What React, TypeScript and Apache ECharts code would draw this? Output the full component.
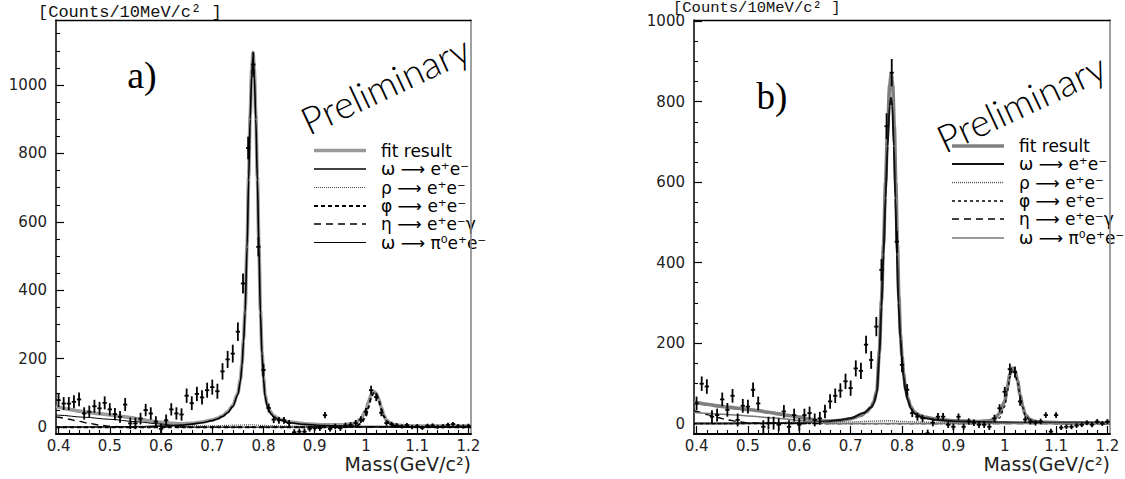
import React, { useEffect, useRef } from "react";
import * as echarts from "echarts";

// ---------------- data ----------------
const massBins = [
  0.40, 0.41, 0.42, 0.43, 0.44, 0.45, 0.46, 0.47, 0.48, 0.49,
  0.50, 0.51, 0.52, 0.53, 0.54, 0.55, 0.56, 0.57, 0.58, 0.59,
  0.60, 0.61, 0.62, 0.63, 0.64, 0.65, 0.66, 0.67, 0.68, 0.69,
  0.70, 0.71, 0.72, 0.73, 0.74, 0.75, 0.76, 0.77, 0.78, 0.79,
  0.80, 0.81, 0.82, 0.83, 0.84, 0.85, 0.86, 0.87, 0.88, 0.89,
  0.90, 0.91, 0.92, 0.93, 0.94, 0.95, 0.96, 0.97, 0.98, 0.99,
  1.00, 1.01, 1.02, 1.03, 1.04, 1.05, 1.06, 1.07, 1.08, 1.09,
  1.10, 1.11, 1.12, 1.13, 1.14, 1.15, 1.16, 1.17, 1.18, 1.19, 1.20,
];

const countsA = [
  79, 69, 69, 74, 81, 40, 45, 61, 55, 71,
  52, 38, 30, 66, 11, 11, 25, 50, 40, 16,
  -5, 20, 52, 40, 37, 92, 70, 97, 87, 108,
  117, 105, 163, 198, 215, 279, 420, 816, 1060, 527,
  167, 56, 22, 20, 20, 12, -15, -13, -13, -5,
  -3, -3, 35, -5, 2, -3, 5, 7, 12, 22,
  45, 108, 88, 42, 12, 9, 5, 2, 6, 0,
  3, -2, 4, 5, 1, 3, 7, 9, 3, 2, 4,
];
const errorsA = [
  20, 19, 19, 19, 20, 18, 18, 19, 19, 19,
  18, 18, 17, 19, 17, 17, 17, 18, 18, 16,
  16, 17, 18, 18, 18, 21, 20, 21, 21, 22,
  22, 22, 24, 25, 26, 27, 29, 33, 36, 28,
  18, 13, 10, 10, 10, 9, 9, 9, 9, 8,
  8, 8, 9, 8, 8, 8, 8, 8, 9, 10,
  11, 13, 12, 10, 8, 7, 7, 6, 6, 6,
  6, 6, 6, 6, 6, 6, 6, 6, 6, 6, 6,
];

const countsB = [
  50, 99, 92, 17, 21, 60, 34, 69, 9, 44,
  42, 84, 50, -8, 1, 1, -3, 30, -8, 21,
  -3, 21, 26, 9, 13, 30, 55, 69, 82, 105,
  88, 137, 131, 196, 158, 241, 382, 739, 872, 452,
  146, 84, 26, 17, 13, -24, 2, 17, 17, -3,
  -8, 17, -8, 5, 2, -3, -3, -8, 13, 38,
  79, 135, 128, 55, 10, 5, 2, 5, 21, -20,
  21, -10, -8, -8, -5, -3, 2, -3, 5, 0, 5,
];
const errorsB = [
  17, 18, 18, 16, 16, 17, 17, 17, 16, 17,
  17, 18, 17, 16, 16, 16, 16, 16, 16, 16,
  16, 16, 16, 16, 16, 17, 18, 18, 18, 19,
  19, 20, 20, 22, 22, 24, 27, 32, 34, 27,
  18, 14, 10, 10, 9, 9, 9, 9, 9, 8,
  8, 8, 8, 8, 8, 8, 8, 8, 9, 10,
  12, 14, 14, 11, 8, 7, 7, 7, 7, 7,
  7, 6, 6, 6, 6, 6, 6, 6, 6, 6, 6,
];

// fit curves, panel a
const fitA = [
  [0.395, 60], [0.40, 58], [0.42, 52], [0.44, 47], [0.46, 43], [0.48, 39], [0.50, 36],
  [0.52, 32], [0.54, 28], [0.56, 23], [0.58, 18], [0.60, 14], [0.62, 11], [0.64, 10],
  [0.66, 11], [0.68, 15], [0.70, 21], [0.71, 26], [0.72, 33], [0.73, 45], [0.74, 63],
  [0.75, 100], [0.755, 140], [0.758, 185], [0.761, 255], [0.764, 340], [0.768, 535],
  [0.771, 732], [0.774, 912], [0.777, 1045], [0.7795, 1095], [0.782, 1045], [0.785, 912],
  [0.788, 732], [0.791, 535], [0.794, 340], [0.797, 222], [0.80, 146], [0.803, 96],
  [0.807, 67], [0.81, 54], [0.815, 42], [0.82, 33], [0.83, 24], [0.85, 15], [0.88, 10],
  [0.92, 7], [0.95, 7], [0.97, 9], [0.98, 13], [0.99, 24], [1.0, 50], [1.005, 74],
  [1.01, 94], [1.015, 104], [1.02, 99], [1.025, 82], [1.03, 57], [1.035, 35], [1.04, 20],
  [1.05, 9], [1.06, 6], [1.08, 4], [1.12, 3], [1.205, 3],
];
const omegaA = [
  [0.395, 0], [0.50, 0.5], [0.55, 1], [0.60, 3], [0.64, 6], [0.66, 9], [0.68, 13],
  [0.70, 19], [0.71, 24], [0.72, 31], [0.73, 42], [0.74, 60], [0.75, 95], [0.755, 135],
  [0.758, 180], [0.761, 250], [0.764, 333], [0.768, 527], [0.771, 722], [0.774, 900],
  [0.777, 1030], [0.7795, 1080], [0.782, 1030], [0.785, 900], [0.788, 722], [0.791, 527],
  [0.794, 333], [0.797, 215], [0.80, 140], [0.803, 90], [0.807, 62], [0.81, 50],
  [0.815, 38], [0.82, 30], [0.83, 22], [0.85, 13], [0.88, 8], [0.92, 5], [0.96, 3],
  [1.0, 2], [1.1, 1], [1.205, 1],
];
const rhoA = [
  [0.395, 1], [0.5, 1.5], [0.6, 2.5], [0.7, 4], [0.75, 6], [0.775, 7], [0.8, 5],
  [0.85, 3], [0.9, 2], [1.0, 1], [1.205, 0.5],
];
const phiA = [
  [0.395, 0], [0.95, 0], [0.97, 1], [0.98, 3], [0.99, 10], [1.0, 32], [1.005, 58],
  [1.01, 86], [1.015, 100], [1.02, 96], [1.025, 78], [1.03, 52], [1.035, 31], [1.04, 17],
  [1.05, 6], [1.06, 3], [1.08, 1], [1.1, 0], [1.205, 0],
];
const etaA = [
  [0.395, 30], [0.40, 29], [0.42, 23], [0.44, 17], [0.46, 11], [0.48, 6], [0.50, 3],
  [0.52, 1], [0.55, 0], [1.205, 0],
];
const omegaPiA = [
  [0.395, 36], [0.40, 35], [0.45, 29], [0.50, 23], [0.55, 16], [0.60, 9], [0.63, 4],
  [0.65, 0.5], [0.66, 0], [1.205, 0],
];

// fit curves, panel b
const fitB = [
  [0.395, 53], [0.40, 52], [0.42, 48], [0.44, 44], [0.46, 41], [0.48, 38], [0.50, 35],
  [0.52, 32], [0.54, 28], [0.56, 24], [0.58, 20], [0.60, 16], [0.62, 11], [0.64, 7],
  [0.66, 6], [0.68, 8], [0.70, 12], [0.72, 20], [0.73, 28], [0.74, 41], [0.745, 54],
  [0.751, 82], [0.756, 180], [0.760, 305], [0.764, 445], [0.768, 600], [0.772, 740],
  [0.776, 840], [0.779, 868], [0.782, 840], [0.785, 740], [0.788, 600], [0.791, 445],
  [0.794, 315], [0.797, 222], [0.80, 168], [0.803, 124], [0.807, 86], [0.811, 64],
  [0.817, 42], [0.823, 30], [0.83, 23], [0.842, 16], [0.87, 10], [0.9, 7], [0.95, 5],
  [0.97, 7], [0.98, 12], [0.99, 25], [1.0, 55], [1.005, 90], [1.01, 122], [1.015, 138],
  [1.02, 132], [1.025, 106], [1.03, 72], [1.035, 42], [1.04, 22], [1.05, 9], [1.06, 5],
  [1.08, 3], [1.12, 2], [1.205, 2],
];
const omegaB = [
  [0.395, 0], [0.5, 0.5], [0.6, 2], [0.65, 5], [0.68, 9], [0.70, 13], [0.725, 26],
  [0.74, 40], [0.745, 50], [0.751, 75], [0.756, 170], [0.760, 290], [0.764, 420],
  [0.768, 560], [0.772, 690], [0.776, 790], [0.7785, 810], [0.781, 790], [0.784, 690],
  [0.787, 560], [0.790, 420], [0.793, 300], [0.797, 210], [0.80, 160], [0.803, 117],
  [0.807, 80], [0.811, 59], [0.817, 38], [0.823, 26], [0.83, 20], [0.842, 14], [0.87, 9],
  [0.9, 6], [0.95, 4], [1.0, 3], [1.1, 2], [1.205, 1],
];
const rhoB = [
  [0.395, 1], [0.5, 1.5], [0.6, 2.5], [0.7, 4], [0.75, 6], [0.775, 7], [0.8, 5],
  [0.85, 3], [0.9, 2], [1.0, 1], [1.205, 0.5],
];
const phiB = [
  [0.395, 0], [0.95, 0], [0.97, 1], [0.98, 4], [0.99, 14], [1.0, 42], [1.005, 78],
  [1.01, 115], [1.015, 133], [1.02, 128], [1.025, 103], [1.03, 68], [1.035, 40],
  [1.04, 20], [1.05, 7], [1.06, 3], [1.08, 1], [1.1, 0], [1.205, 0],
];
const etaB = [
  [0.395, 32], [0.40, 30], [0.42, 22], [0.44, 15], [0.46, 9], [0.48, 5], [0.50, 2],
  [0.52, 1], [0.55, 0], [1.205, 0],
];
const omegaPiB = [
  [0.395, 28], [0.40, 27], [0.45, 23], [0.50, 19], [0.55, 14], [0.60, 8], [0.63, 4],
  [0.65, 0.5], [0.66, 0], [1.205, 0],
];

// ticks
const xTickValues = [0.4, 0.5, 0.6, 0.7, 0.8, 0.9, 1.0, 1.1, 1.2];
const xTickLabels = ["0.4", "0.5", "0.6", "0.7", "0.8", "0.9", "1", "1.1", "1.2"];
const xMinorTicks = [
  0.42, 0.44, 0.46, 0.48, 0.52, 0.54, 0.56, 0.58, 0.62, 0.64, 0.66, 0.68,
  0.72, 0.74, 0.76, 0.78, 0.82, 0.84, 0.86, 0.88, 0.92, 0.94, 0.96, 0.98,
  1.02, 1.04, 1.06, 1.08, 1.12, 1.14, 1.16, 1.18,
];
const yTickValues = [0, 200, 400, 600, 800, 1000];
const yTickLabels = ["0", "200", "400", "600", "800", "1000"];
const yMinorTicksA = [
  50, 100, 150, 250, 300, 350, 450, 500, 550, 650, 700, 750, 850, 900, 950,
  1050, 1100, 1150,
];
const yMinorTicksB = [
  50, 100, 150, 250, 300, 350, 450, 500, 550, 650, 700, 750, 850, 900, 950,
];

const legendLabels = [
  "fit result",
  "ω ⟶ e⁺e⁻",
  "ρ ⟶ e⁺e⁻",
  "φ ⟶ e⁺e⁻",
  "η ⟶ e⁺e⁻γ",
  "ω ⟶ π⁰e⁺e⁻",
];
const yTitle = "[Counts/10MeV/c² ]";
const xTitle = "Mass(GeV/c²)";

// ---------------- helpers ----------------
const LABEL_FONT = "DejaVu Sans";

function xFormatter(v: number) {
  const i = xTickValues.findIndex((t) => Math.abs(t - v) < 1e-6);
  return i >= 0 ? xTickLabels[i] : "";
}
function yFormatter(v: number) {
  const i = yTickValues.findIndex((t) => Math.abs(t - v) < 1e-6);
  return i >= 0 ? yTickLabels[i] : "";
}

function makeAxes(grid: number, yMin: number, yMax: number, yMinor: number[]) {
  const xr = { min: 0.395, max: 1.205 };
  const xAxes = [
    {
      type: "value", gridIndex: grid, ...xr, position: "bottom",
      axisLine: { show: true, onZero: false, lineStyle: { color: "#000", width: 1.8 } },
      axisTick: { show: true, inside: true, length: 8, customValues: xTickValues, lineStyle: { color: "#000", width: 1.2 } },
      axisLabel: { show: true, customValues: xTickValues, formatter: xFormatter, margin: 4, fontFamily: LABEL_FONT, fontSize: 15, color: "#222" },
      splitLine: { show: false },
    },
    {
      type: "value", gridIndex: grid, ...xr, position: "bottom",
      axisLine: { show: false, onZero: false },
      axisTick: { show: true, inside: true, length: 4, customValues: xMinorTicks, lineStyle: { color: "#000", width: 1.1 } },
      axisLabel: { show: false },
      splitLine: { show: false },
    },
    {
      type: "value", gridIndex: grid, ...xr, position: "top",
      axisLine: { show: true, onZero: false, lineStyle: { color: "#000", width: 1.4 } },
      axisTick: { show: false }, axisLabel: { show: false }, splitLine: { show: false },
    },
  ];
  const yr = { min: yMin, max: yMax };
  const yAxes = [
    {
      type: "value", gridIndex: grid, ...yr, position: "left",
      axisLine: { show: true, onZero: false, lineStyle: { color: "#000", width: 1.5 } },
      axisTick: { show: true, inside: true, length: 8, customValues: yTickValues, lineStyle: { color: "#000", width: 1.2 } },
      axisLabel: { show: true, customValues: yTickValues, formatter: yFormatter, margin: 9, fontFamily: LABEL_FONT, fontSize: 15, color: "#222" },
      splitLine: { show: false },
    },
    {
      type: "value", gridIndex: grid, ...yr, position: "left",
      axisLine: { show: false, onZero: false },
      axisTick: { show: true, inside: true, length: 4, customValues: yMinor, lineStyle: { color: "#000", width: 1.1 } },
      axisLabel: { show: false }, splitLine: { show: false },
    },
    {
      type: "value", gridIndex: grid, ...yr, position: "right",
      axisLine: { show: true, onZero: false, lineStyle: { color: "#888", width: 1.6 } },
      axisTick: { show: false }, axisLabel: { show: false }, splitLine: { show: false },
    },
  ];
  return { xAxes, yAxes };
}

function errorSeries(axis: number, counts: number[], errs: number[]) {
  return {
    type: "custom",
    xAxisIndex: axis,
    yAxisIndex: axis,
    clip: true,
    z: 10,
    silent: true,
    data: massBins.map((m, i) => [m, counts[i], errs[i]]),
    renderItem: (_p: any, api: any) => {
      const x = api.value(0);
      const y = api.value(1);
      const e = api.value(2);
      const c = api.coord([x, y]);
      const t = api.coord([x, y + e]);
      const b = api.coord([x, y - e]);
      const l = api.coord([x - 0.0042, y]);
      const r = api.coord([x + 0.0042, y]);
      const st = { stroke: "#000", lineWidth: 1.8 };
      return {
        type: "group",
        children: [
          { type: "line", shape: { x1: c[0], y1: t[1], x2: c[0], y2: b[1] }, style: st },
          { type: "line", shape: { x1: l[0], y1: c[1], x2: r[0], y2: c[1] }, style: st },
        ],
      };
    },
  };
}

type Sty = { color: string; width: number; dash: any };

function curve(name: string, data: number[][], axis: number, s: Sty, z: number) {
  return {
    type: "line",
    name,
    data,
    xAxisIndex: axis,
    yAxisIndex: axis,
    symbol: "none",
    smooth: 0.3,
    smoothMonotone: "x",
    silent: true,
    z,
    lineStyle: { color: s.color, width: s.width, type: s.dash },
  };
}

const stylesA: Sty[] = [
  { color: "#9a9a9a", width: 3.6, dash: "solid" },
  { color: "#000", width: 1.6, dash: "solid" },
  { color: "#444", width: 1.2, dash: [1, 1] },
  { color: "#000", width: 2, dash: [4, 3] },
  { color: "#000", width: 1.4, dash: [7, 5] },
  { color: "#000", width: 1, dash: "solid" },
];
const stylesB: Sty[] = [
  { color: "#7f7f7f", width: 3.6, dash: "solid" },
  { color: "#111", width: 2, dash: "solid" },
  { color: "#555", width: 1.5, dash: [1, 1] },
  { color: "#000", width: 1.3, dash: [3, 3] },
  { color: "#000", width: 1.3, dash: [7, 5] },
  { color: "#777", width: 1.5, dash: "solid" },
];

function legendGraphics(lineX: number, textX: number, rows: number[], styles: Sty[]) {
  const out: any[] = [];
  rows.forEach((y, i) => {
    const s = styles[i];
    out.push({
      type: "line",
      shape: { x1: lineX, y1: y, x2: lineX + 52, y2: y },
      style: { stroke: s.color, lineWidth: s.width, lineDash: Array.isArray(s.dash) ? s.dash : null },
      silent: true,
    });
    out.push({
      type: "text",
      x: textX,
      y: y,
      style: {
        text: legendLabels[i],
        fontFamily: LABEL_FONT,
        fontSize: 17,
        lineHeight: 15,
        fill: "#000",
        stroke: "#fff",
        lineWidth: 0.5,
        textAlign: "left",
        textVerticalAlign: "middle",
      },
      silent: true,
    });
  });
  return out;
}

export default function App() {
  const ref = useRef<HTMLDivElement>(null);
  useEffect(() => {
    if (!ref.current) return;
    const chart = echarts.init(ref.current, null, { renderer: "svg" });
    const a = makeAxes(0, -20, 1190, yMinorTicksA);
    const b = makeAxes(1, -26, 1003, yMinorTicksB);
    const xAxis = [...a.xAxes, ...b.xAxes];
    const yAxis = [...a.yAxes, ...b.yAxes];
    const compsA = [fitA, omegaA, rhoA, phiA, etaA, omegaPiA];
    const compsB = [fitB, omegaB, rhoB, phiB, etaB, omegaPiB];
    const series: any[] = [];
    compsA.forEach((d, i) => series.push(curve(legendLabels[i], d, 0, stylesA[i], i === 0 ? 2 : 3)));
    compsB.forEach((d, i) => series.push(curve(legendLabels[i], d, 3, stylesB[i], i === 0 ? 2 : 3)));
    series.push(errorSeries(0, countsA, errorsA));
    series.push(errorSeries(3, countsB, errorsB));

    const prelimStyle = {
      text: "Preliminary", fontFamily: "Lato", fontWeight: 300, fontSize: 38, fill: "#000",
      stroke: "#fff", lineWidth: 0.6,
      textAlign: "left", textVerticalAlign: "bottom",
    };

    const graphic: any[] = [
      {
        type: "text", x: 38, y: 12,
        style: { text: yTitle, fontFamily: "Liberation Mono", fontSize: 17, fill: "#111", textAlign: "left", textVerticalAlign: "middle" },
      },
      {
        type: "text", x: 673, y: 8,
        style: { text: yTitle, fontFamily: "Liberation Mono", fontSize: 15.5, fill: "#111", textAlign: "left", textVerticalAlign: "middle" },
      },
      {
        type: "text", x: 471, y: 464,
        style: { text: xTitle, fontFamily: LABEL_FONT, fontSize: 19, fill: "#222", stroke: "#fff", lineWidth: 0.5, textAlign: "right", textVerticalAlign: "middle" },
      },
      {
        type: "text", x: 1110, y: 464,
        style: { text: xTitle, fontFamily: LABEL_FONT, fontSize: 19, fill: "#222", stroke: "#fff", lineWidth: 0.5, textAlign: "right", textVerticalAlign: "middle" },
      },
      {
        type: "text", x: 142, y: 75,
        style: { text: "a)", fontFamily: "Liberation Serif", fontSize: 38, fill: "#000", textAlign: "center", textVerticalAlign: "middle" },
      },
      {
        type: "text", x: 772, y: 96,
        style: { text: "b)", fontFamily: "Liberation Serif", fontSize: 37, fill: "#000", textAlign: "center", textVerticalAlign: "middle" },
      },
      { type: "text", x: 311, y: 140, rotation: (25 * Math.PI) / 180, style: prelimStyle },
      { type: "text", x: 947, y: 158, rotation: (25 * Math.PI) / 180, style: prelimStyle },
      ...legendGraphics(314, 381, [150.5, 169, 187.5, 206, 224, 242.5], stylesA),
      ...legendGraphics(952, 1019, [146, 164, 182.5, 201, 219, 238], stylesB),
    ];

    chart.setOption({
      animation: false,
      backgroundColor: "#fff",
      grid: [
        { left: 56, top: 20, width: 415, height: 414, containLabel: false },
        { left: 694, top: 20, width: 416, height: 414, containLabel: false },
      ],
      xAxis,
      yAxis,
      series,
      graphic,
    });
    return () => chart.dispose();
  }, []);
  return (
    <div
      ref={ref}
      style={{ position: "fixed", left: 0, top: 0, width: 1125, height: 479, background: "#fff" }}
    />
  );
}
